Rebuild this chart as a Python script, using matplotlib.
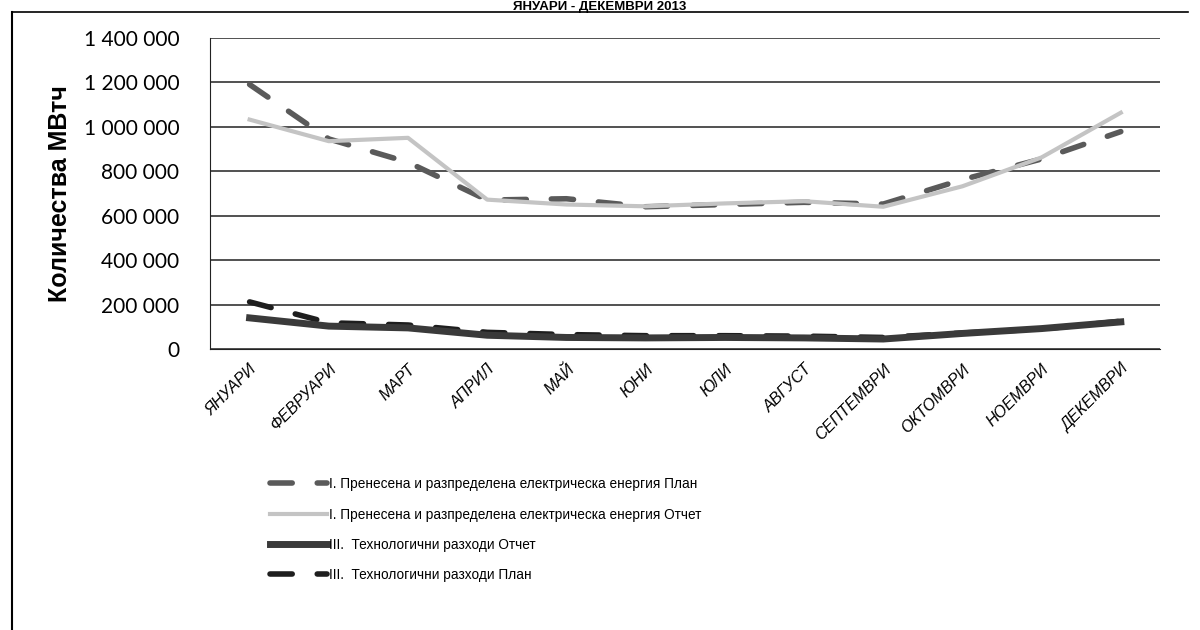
import numpy as np
import matplotlib.pyplot as plt
from matplotlib.lines import Line2D

plt.rcParams['font.family'] = ['Liberation Sans', 'DejaVu Sans']

months = ['ЯНУАРИ', 'ФЕВРУАРИ', 'МАРТ', 'АПРИЛ', 'МАЙ', 'ЮНИ', 'ЮЛИ',
          'АВГУСТ', 'СЕПТЕМВРИ', 'ОКТОМВРИ', 'НОЕМВРИ', 'ДЕКЕМВРИ']

# MWh
energy_plan = [1190000, 945000, 840000, 670000, 676000, 640000, 650000,
               660000, 652000, 762000, 855000, 978000]
energy_actual = [1032000, 935000, 950000, 672000, 650000, 642000, 655000,
                 665000, 640000, 732000, 862000, 1063000]
tech_actual = [140000, 103000, 95000, 62000, 52000, 50000, 52000,
               50000, 45000, 70000, 92000, 122000]
tech_plan = [212000, 118000, 108000, 75000, 65000, 60000, 60000,
             58000, 52000, 72000, 90000, 125000]

labels = ['I. Пренесена и разпределена електрическа енергия План',
          'I. Пренесена и разпределена електрическа енергия Отчет',
          'III.  Технологични разходи Отчет',
          'III.  Технологични разходи План']

fig = plt.figure(figsize=(12, 6.3), dpi=100)
ax = fig.add_axes([0.175, 0.446, 0.792, 0.494])
x = np.arange(len(months))

ax.plot(x, energy_plan, color='#5a5a5a', lw=4, dashes=(4, 4.5),
        dash_capstyle='round', label=labels[0], zorder=3)
ax.plot(x, energy_actual, color='#c4c4c4', lw=3, label=labels[1], zorder=4)
ax.plot(x, tech_actual, color='#3a3a3a', lw=5, label=labels[2], zorder=3)
ax.plot(x, tech_plan, color='#1e1e1e', lw=4, dashes=(4, 4.5), dash_capstyle='round',
        label=labels[3], zorder=2)

ax.set_xlim(-0.5, len(months) - 0.5)
ax.set_ylim(0, 1400000)
ax.set_yticks(range(0, 1400001, 200000))
ax.set_yticklabels([f'{v:,}'.replace(',', ' ') for v in range(0, 1400001, 200000)],
                   fontsize=15, family=['Lato', 'DejaVu Sans'])
ax.set_xticks(x)
ax.set_xticklabels(months, rotation=45, ha='right', rotation_mode='anchor',
                   fontsize=11.5, fontstyle='italic')
ax.tick_params(axis='y', length=0, pad=22)
ax.tick_params(axis='x', length=0, pad=9)
ax.grid(axis='y', color='#222222', lw=1.1)
ax.set_axisbelow(True)
for s in ['top', 'right']:
    ax.spines[s].set_visible(False)
ax.spines['left'].set_color('#222222')
ax.spines['bottom'].set_color('#222222')
ax.set_ylabel('Количества МВтч', fontsize=18, fontweight='bold')
ax.yaxis.set_label_coords(-0.145, 0.5)

fig.legend(loc='upper left', bbox_to_anchor=(0.215, 0.262), frameon=False,
           fontsize=9.8, handlelength=4.2, handletextpad=0.1, labelspacing=1.2)

fig.text(0.5, 0.999, 'ЯНУАРИ - ДЕКЕМВРИ 2013', ha='center', va='top',
         fontsize=9.5, fontweight='bold')
fig.add_artist(Line2D([0.01, 0.01], [0.0, 0.981], color='black', lw=1.5))
fig.add_artist(Line2D([0.01, 0.99], [0.981, 0.981], color='black', lw=1.2))

fig.savefig('out.png', dpi=100)
